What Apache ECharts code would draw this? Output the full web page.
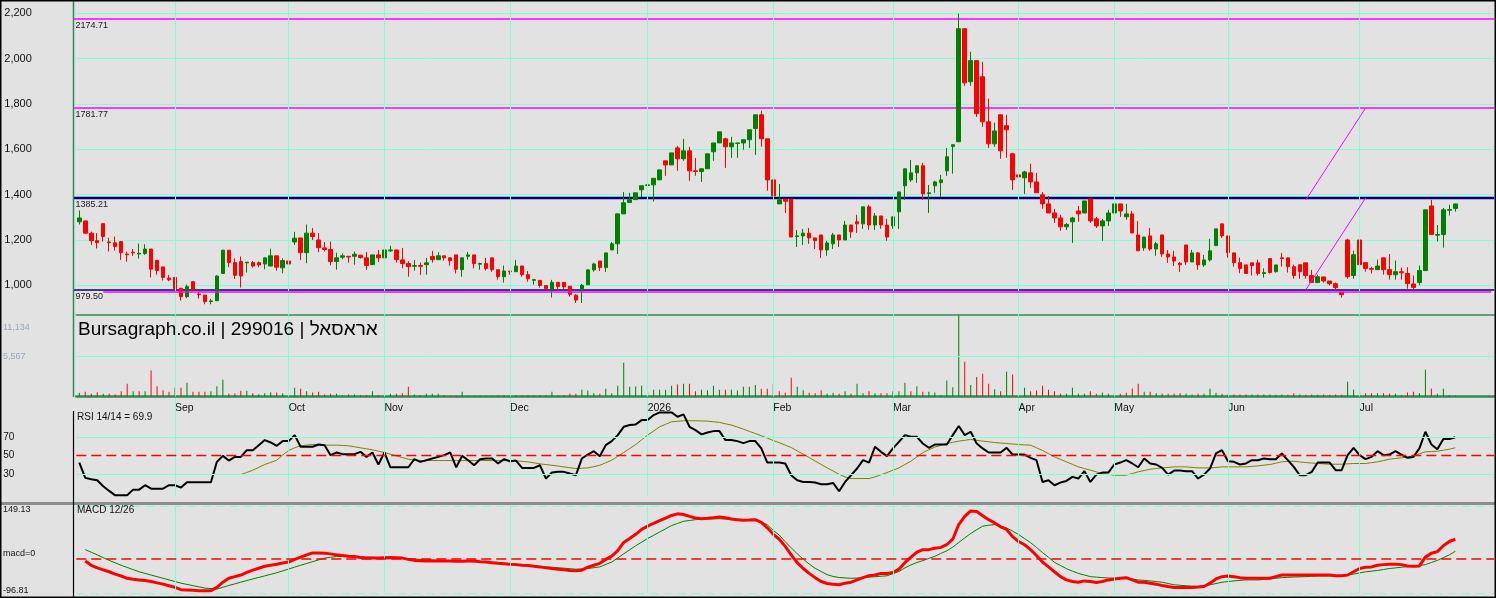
<!DOCTYPE html>
<html><head><meta charset="utf-8">
<script src="https://cdn.jsdelivr.net/npm/echarts@6/dist/echarts.min.js"></script>
<style>html,body{margin:0;padding:0;background:#e2e2e2}#c{width:1496px;height:598px}</style>
</head><body><div id="c"></div>
<script>
const opens=[1280,1284,1230,1197,1272,1191,1188,1193,1138,1146,1138,1140,1160,1110,1081,1032,1035,987,950,1016,962,957,928,932,1052,1155,1100,1105,1099,1100,1100,1094,1085,1130,1077,1107,1191,1209,1144,1230,1200,1165,1158,1105,1124,1128,1128,1133,1121,1091,1134,1121,1152,1156,1112,1096,1084,1087,1091,1127,1113,1130,1121,1134,1069,1128,1134,1093,1096,1121,1069,1038,1063,1060,1085,1047,1022,1022,999,984,1013,1013,996,956,984,1002,1068,1107,1078,1156,1183,1315,1365,1378,1421,1440,1443,1465,1549,1531,1606,1558,1593,1505,1502,1514,1589,1628,1646,1611,1626,1628,1642,1692,1752,1646,1465,1359,1380,1380,1215,1218,1230,1209,1222,1156,1183,1222,1200,1266,1280,1271,1346,1266,1306,1266,1262,1324,1439,1465,1496,1527,1405,1439,1453,1505,1612,1633,2132,1898,1991,1920,1721,1624,1752,1704,1580,1487,1474,1496,1456,1399,1359,1319,1297,1258,1280,1328,1319,1381,1293,1262,1284,1319,1359,1302,1315,1222,1165,1218,1160,1222,1138,1125,1097,1178,1103,1143,1090,1112,1175,1271,1218,1143,1100,1090,1099,1099,1052,1118,1060,1121,1121,1082,1091,1099,1043,1012,1037,1019,1007,969,1200,1043,1200,1100,1074,1069,1121,1069,1047,1060,1052,1006,1012,1065,1350,1221,1224,1331,1339];
const closes=[1297,1230,1197,1188,1215,1188,1171,1144,1135,1143,1141,1160,1071,1065,1035,1024,985,950,994,979,959,928,931,1041,1155,1100,1044,1041,1102,1085,1090,1121,1130,1080,1109,1094,1208,1144,1230,1215,1166,1158,1105,1121,1130,1125,1137,1122,1087,1134,1121,1156,1156,1113,1096,1082,1087,1084,1099,1113,1130,1121,1109,1071,1121,1134,1096,1096,1074,1069,1038,1063,1060,1085,1047,1029,1025,999,985,1013,994,993,960,935,1000,1068,1094,1078,1143,1183,1315,1364,1377,1408,1439,1443,1472,1509,1531,1584,1558,1593,1505,1502,1514,1580,1628,1677,1611,1628,1628,1642,1686,1752,1646,1465,1394,1377,1371,1213,1218,1230,1209,1197,1156,1187,1222,1200,1266,1236,1271,1346,1266,1306,1266,1213,1302,1412,1514,1496,1527,1403,1408,1456,1465,1567,1620,2132,1893,1991,1757,1721,1624,1681,1593,1686,1465,1478,1500,1456,1408,1359,1319,1297,1258,1268,1297,1315,1372,1284,1262,1284,1319,1359,1328,1315,1231,1152,1213,1160,1183,1138,1125,1107,1091,1103,1143,1090,1112,1152,1249,1218,1144,1100,1074,1052,1087,1052,1056,1056,1090,1118,1082,1043,1060,1043,1012,1038,1019,1007,990,959,1038,1135,1091,1074,1071,1085,1069,1047,1060,1055,1007,990,1065,1333,1224,1224,1333,1334,1359];
const highs=[1330,1286,1237,1230,1272,1210,1215,1193,1149,1160,1184,1181,1160,1110,1081,1046,1035,987,1004,1016,971,957,940,1044,1155,1155,1119,1127,1102,1107,1105,1122,1162,1130,1119,1178,1236,1209,1268,1253,1230,1191,1193,1144,1141,1128,1149,1133,1147,1134,1156,1196,1174,1156,1165,1106,1112,1100,1121,1152,1146,1130,1121,1134,1121,1147,1134,1100,1121,1121,1069,1087,1063,1112,1085,1063,1028,1022,999,1024,1013,1013,996,960,1006,1071,1099,1107,1143,1191,1318,1411,1408,1408,1439,1461,1472,1509,1549,1584,1615,1646,1611,1562,1514,1580,1628,1677,1651,1655,1628,1642,1686,1752,1770,1646,1465,1447,1380,1380,1244,1249,1253,1209,1222,1196,1231,1222,1284,1266,1311,1346,1355,1319,1306,1293,1302,1412,1514,1553,1531,1540,1443,1461,1487,1606,1620,2198,2132,2030,1991,1986,1823,1717,1752,1752,1584,1527,1505,1536,1496,1412,1394,1337,1311,1275,1302,1350,1372,1381,1302,1293,1333,1359,1359,1359,1328,1284,1213,1253,1191,1222,1156,1152,1103,1178,1156,1147,1134,1205,1249,1271,1218,1143,1122,1090,1099,1113,1075,1118,1090,1143,1121,1091,1091,1099,1068,1047,1037,1019,1012,969,1205,1153,1200,1100,1082,1113,1121,1138,1109,1078,1080,1043,1087,1333,1377,1266,1341,1355,1359];
const lows=[1268,1228,1178,1162,1193,1149,1153,1112,1104,1130,1118,1134,1035,1047,1021,1018,979,932,943,979,941,916,916,932,1052,1080,1028,990,1056,1078,1080,1071,1085,1065,1053,1080,1178,1112,1097,1200,1146,1149,1088,1069,1115,1100,1091,1118,1068,1091,1103,1121,1147,1100,1075,1038,1065,1046,1047,1100,1113,1109,1087,1052,1038,1113,1074,1069,1065,1060,1025,1012,1047,1060,1038,1016,1003,990,979,946,978,984,950,922,922,1002,1060,1063,1059,1156,1138,1315,1365,1378,1389,1374,1369,1465,1483,1531,1505,1549,1461,1483,1456,1514,1549,1628,1518,1562,1562,1598,1606,1575,1611,1417,1341,1359,1319,1213,1169,1178,1183,1160,1121,1130,1160,1169,1200,1209,1231,1249,1244,1244,1249,1196,1249,1249,1377,1456,1452,1377,1319,1408,1390,1483,1492,1633,1880,1880,1743,1699,1606,1611,1558,1562,1421,1470,1403,1430,1408,1337,1319,1275,1240,1244,1187,1280,1319,1275,1253,1196,1262,1319,1302,1289,1231,1152,1152,1152,1130,1125,1099,1085,1059,1090,1103,1068,1081,1105,1175,1209,1122,1082,1053,1052,1043,1043,1034,1052,1056,1082,1056,1029,1029,1029,1012,1012,1012,999,981,946,1029,1029,1060,1060,1052,1069,1047,1025,1025,1025,985,981,1000,1065,1224,1193,1166,1308,1325];
const volumes=[506,644,368,598,368,368,276,736,1748,736,736,736,3588,1426,874,644,1196,1196,1886,644,644,644,736,1426,2300,368,414,782,782,460,322,460,598,552,460,184,1196,1058,736,552,644,276,368,368,184,276,276,184,184,736,184,276,368,368,460,1334,276,184,368,368,368,184,90,110,644,90,100,90,110,100,184,184,184,184,184,184,184,184,184,644,184,184,368,368,920,828,460,368,1058,460,1472,4650,1334,1380,1472,644,920,920,920,1472,1656,1748,1748,736,920,874,1472,920,920,920,828,1334,1334,1564,1058,1058,1748,736,506,2576,1334,874,506,460,874,368,506,368,736,368,1748,460,736,460,460,460,736,736,1886,736,1426,644,644,552,184,2208,1288,11134,4784,1564,2668,3128,1748,1012,736,3404,3036,368,1196,736,828,1472,920,736,368,368,1196,368,368,736,368,552,368,368,368,506,1104,1748,644,644,460,368,368,368,460,368,276,368,368,1058,506,368,276,276,276,276,276,276,276,276,230,276,230,460,276,230,276,230,276,230,276,230,2024,920,736,460,460,460,460,368,368,184,552,644,460,3680,1104,368,1058,184,100];
const rsi=[42.3,25.6,24.1,23.0,16.5,11.4,6.6,6.6,6.6,12.8,12.8,17.6,13.9,13.9,13.9,17.6,17.6,15.0,20.9,20.9,20.9,20.9,20.9,43.1,49.6,44.5,48.5,48.5,55.8,55.8,61.3,66.8,64.2,60.6,65.7,65.7,72.2,59.5,59.5,59.5,62.0,61.3,50.4,53.3,51.5,51.5,51.5,54.0,48.5,53.3,40.2,53.3,37.2,37.2,37.2,37.2,46.0,43.1,44.9,46.7,48.5,50.4,53.3,37.2,49.6,44.9,39.4,46.0,46.7,46.7,41.3,46.0,43.8,44.5,36.5,36.5,36.5,39.4,24.9,31.4,32.2,32.2,30.3,28.5,46.7,51.1,54.7,49.3,61.3,65.7,72.2,81.3,83.2,83.9,88.6,88.6,94.1,97.0,97.0,97.0,92.3,94.8,81.3,77.7,73.0,75.1,76.6,76.6,66.8,66.8,65.7,63.5,65.7,65.7,57.7,42.3,42.3,42.3,41.3,28.5,23.0,21.2,21.2,20.5,18.7,18.7,20.1,11.0,21.2,28.5,35.8,44.9,42.3,59.5,54.0,49.3,57.7,64.9,72.2,70.4,70.4,63.1,58.4,62.0,62.0,62.0,72.2,82.1,72.2,75.9,63.1,57.7,53.3,53.3,53.3,58.4,51.1,51.1,51.1,47.5,44.9,21.2,23.0,17.6,20.5,22.3,26.7,24.9,32.9,21.2,29.2,31.4,31.4,40.2,42.3,44.9,41.3,37.2,46.7,41.3,40.2,36.5,29.2,33.6,33.6,32.9,32.9,24.9,29.2,35.8,52.2,55.8,43.8,43.1,40.2,41.3,44.9,44.9,46.7,46.0,46.0,52.2,44.9,37.6,28.5,28.5,32.2,42.3,42.3,42.3,34.0,34.0,50.4,58.4,50.4,46.0,48.5,54.7,50.4,51.1,54.7,51.1,47.5,48.5,57.7,75.9,62.0,56.9,67.9,67.9,69.9];
const rsiSignal=[null,null,null,null,null,null,null,null,null,null,null,null,null,null,null,null,null,null,null,null,null,null,null,null,null,null,null,29.2,31.5,34.0,37.0,40.2,42.5,44.9,50.5,55.5,58.4,60.6,61.3,62.0,61.8,61.3,61.3,61.3,61.0,60.6,59.5,58.4,57.3,56.2,54.8,53.3,51.4,49.6,47.8,46.0,45.2,44.5,44.5,44.5,44.5,44.5,44.5,44.5,44.5,44.5,44.5,44.5,44.5,44.5,44.5,44.5,44.4,44.2,43.6,43.1,42.0,40.9,40.1,39.4,38.5,37.6,36.7,35.8,36.1,36.5,37.9,39.4,42.1,44.9,49.1,53.3,57.6,62.0,67.1,72.2,76.7,81.3,84.0,86.8,87.3,87.9,87.9,87.9,87.7,87.5,86.8,86.1,84.6,83.2,81.0,78.8,76.3,74.0,71.5,68.9,66.3,64.0,61.3,58.7,55.0,51.4,47.8,44.0,40.3,36.5,33.1,29.5,26.7,24.9,24.9,24.9,24.9,26.7,29.0,31.4,34.0,36.5,40.1,43.8,48.5,53.3,56.2,59.1,61.1,63.1,64.4,65.7,66.6,67.5,66.6,65.7,65.0,64.2,63.6,63.1,62.5,62.0,61.6,61.3,58.4,55.5,52.0,48.5,45.8,43.1,40.4,37.6,35.8,34.0,32.2,30.3,29.4,28.5,28.5,28.5,30.4,32.2,33.6,35.1,35.8,36.5,37.0,37.6,37.6,37.6,37.0,36.5,36.5,36.5,37.0,37.6,37.6,37.6,37.6,37.6,38.2,38.7,39.5,40.2,41.6,43.1,43.5,43.8,43.0,42.3,41.8,41.3,40.9,40.5,40.5,40.5,40.9,41.3,41.3,41.3,42.2,43.1,44.5,46.0,46.8,47.5,48.5,49.6,51.8,54.0,54.3,54.7,55.8,56.9,58.4];
const macd=[null,-6.4,-18.4,-25.8,-31.3,-36.8,-43.3,-48.8,-55.2,-58.0,-59.8,-61.7,-64.4,-68.1,-71.8,-76.4,-81.0,-87.5,-88.4,-89.3,-90.2,-90.2,-90.2,-81.0,-66.3,-55.2,-50.6,-46.0,-38.7,-32.2,-26.7,-21.2,-18.4,-15.7,-12.0,-9.2,-1.8,4.6,11.0,16.6,16.6,15.6,13.8,11.0,9.2,7.4,6.4,3.7,1.8,1.8,1.8,2.8,3.7,2.8,1.8,-1.8,-4.6,-5.5,-6.4,-6.4,-6.4,-6.4,-6.4,-7.4,-7.4,-6.4,-6.4,-8.3,-9.2,-11.0,-12.9,-13.8,-15.7,-16.6,-18.4,-19.3,-21.2,-23.0,-25.8,-27.6,-29.5,-31.3,-33.1,-34.1,-32.2,-23.9,-18.4,-12.9,-1.8,7.4,23.0,46.0,57.1,69.0,82.9,92.1,100.3,107.7,115.1,122.4,127.0,125.2,119.7,115.1,113.2,114.2,116.0,117.8,116.0,112.3,110.5,108.6,109.5,110.5,103.1,87.5,69.0,55.2,35.0,11.0,-11.0,-27.6,-41.4,-53.4,-64.4,-70.0,-71.8,-73.6,-69.0,-66.3,-59.8,-53.4,-47.9,-46.0,-41.4,-41.4,-38.7,-29.5,-11.0,4.6,18.4,25.8,25.8,29.5,32.2,39.6,55.2,96.7,119.7,135.3,133.5,121.5,110.5,101.3,90.2,82.9,62.6,48.8,39.6,25.8,9.2,-9.2,-23.0,-36.8,-50.6,-59.8,-64.4,-66.3,-62.6,-64.4,-67.2,-64.4,-59.8,-57.1,-55.2,-53.4,-59.8,-66.3,-66.3,-69.0,-71.8,-75.5,-78.3,-81.0,-81.0,-81.0,-81.0,-80.1,-78.3,-69.0,-57.1,-50.6,-48.8,-50.6,-53.4,-55.2,-55.2,-55.2,-55.2,-55.2,-50.6,-46.0,-46.0,-46.0,-46.0,-46.0,-46.0,-46.0,-46.0,-46.0,-47.9,-47.9,-46.0,-36.8,-27.6,-23.9,-23.0,-18.4,-16.6,-15.7,-15.7,-16.6,-20.3,-21.2,-20.3,4.6,15.6,20.3,36.8,48.8,55.2];
const macdSignal=[null,25.8,18.4,11.0,3.2,-4.6,-11.5,-18.4,-24.5,-30.7,-36.8,-41.4,-46.0,-50.6,-55.2,-59.8,-64.4,-69.0,-72.5,-76.0,-79.4,-82.9,-84.3,-85.6,-80.6,-75.5,-71.0,-66.3,-61.7,-57.1,-52.8,-48.4,-44.0,-39.6,-34.3,-29.0,-23.7,-18.4,-13.4,-8.3,-3.2,1.8,4.1,6.4,6.2,6.0,5.8,5.5,4.8,4.1,3.5,2.8,2.1,1.4,0.7,0.0,-0.9,-1.8,-2.8,-3.7,-4.4,-5.0,-5.7,-6.4,-7.1,-7.8,-8.5,-9.2,-10.1,-11.0,-12.0,-12.9,-14.3,-15.6,-17.0,-18.4,-19.8,-21.2,-22.5,-23.9,-25.3,-26.7,-28.1,-29.5,-28.5,-27.6,-25.3,-23.0,-16.1,-9.2,2.3,13.8,25.3,36.8,47.0,57.1,66.3,75.5,84.7,93.9,99.9,105.9,108.2,110.5,111.4,112.3,112.8,113.2,111.9,110.5,109.6,108.6,110.0,109.0,104.0,96.0,80.0,67.0,48.0,31.0,14.0,-1.0,-15.0,-27.0,-36.0,-45.0,-50.0,-53.0,-54.3,-55.2,-54.5,-53.6,-52.0,-50.8,-49.5,-48.2,-42.0,-36.0,-26.0,-17.5,-10.6,-5.2,1.0,6.8,15.0,22.5,33.0,46.0,59.0,71.5,82.0,92.0,94.8,96.6,92.5,87.0,78.0,68.5,57.0,45.5,32.0,17.5,4.0,-10.0,-19.0,-28.0,-35.0,-41.5,-46.0,-50.6,-52.0,-53.4,-54.3,-55.2,-55.2,-55.2,-57.5,-59.8,-61.2,-62.6,-64.5,-66.3,-70.0,-73.6,-75.0,-76.4,-77.4,-78.3,-76.0,-73.6,-70.0,-66.3,-64.5,-62.6,-61.2,-59.8,-59.8,-59.8,-58.5,-57.1,-55.2,-53.4,-52.5,-51.6,-51.1,-50.6,-49.7,-48.8,-48.8,-48.8,-48.8,-48.8,-46.0,-43.3,-40.0,-36.8,-35.0,-33.1,-30.4,-27.6,-25.8,-23.9,-22.5,-21.2,-18.9,-16.6,-10.6,-4.6,3.2,11.0,21.2];

const monthTickIdx=[16,35,51,72,95,116,136,157,173,192,214];
const monthTickLabels=['Sep','Oct','Nov','Dec','2026','Feb','Mar','Apr','May','Jun','Jul'];
const priceTicks=[1000,1200,1400,1600,1800,2000,2200];
const rsiTicks=[30,50,70];
const volTickLabels=['11,134','5,567'];
const volGridValue=5567;
const macdTickLabels=['149.13','macd=0','-96.81'];
const macdBounds=[-96.81,149.13];
const levelValues=[2174.71,1781.77,1385.21,979.50];
const lowerMagentaLevel=972.0;
const trendIdx=[205,215];
const trendLower=[979.5,1385.21];
const trendUpper=[1376,1781.77];
const N_SLOTS=237;
const categories=Array.from({length:N_SLOTS},(_,i)=>'D'+(i+1));

const GREEN='#008000', RED='#ff0000', AQUA='#7fffd4', MAG='#ff00ff', NAVY='#000080', FRAME='#2e8b57';
const FONT='"Liberation Sans", Arial, sans-serif';
const GL=76.3, GW=1417.9;

const candleData=opens.map((o,i)=>[o,closes[i],lows[i],highs[i]]);
const volData=volumes.map((v,i)=>{
  const up = i===0 ? closes[0]>=opens[0] : closes[i]>=closes[i-1];
  return {value:v,itemStyle:{color:up?GREEN:RED}};
});
const vlines=monthTickIdx.map(i=>({xAxis:i}));

function xAx(gi,extra){return Object.assign({type:'category',gridIndex:gi,data:categories,boundaryGap:true,
  axisLine:{show:false},axisTick:{show:false},axisLabel:{show:false},splitLine:{show:false}},extra||{});}
function yAx(gi,min,max,extra){return Object.assign({type:'value',gridIndex:gi,min:min,max:max,
  axisLine:{show:false},axisTick:{show:false},axisLabel:{show:false},splitLine:{show:false}},extra||{});}
function marks(gi,data,z){return {type:'line',xAxisIndex:gi,yAxisIndex:gi,data:[],silent:true,z:z||1,symbol:'none',
  markLine:{silent:true,symbol:['none','none'],animation:false,label:{show:false},
    lineStyle:{color:AQUA,width:1,type:'solid'},data:data}};}

const levelStyles=[{color:MAG,width:1.3},{color:MAG,width:1.6},{color:NAVY,width:2.6},{color:NAVY,width:1.6}];
const priceMarks=[].concat(vlines,
  [
    [{coord:[4,lowerMagentaLevel],lineStyle:{color:MAG,width:1.7,type:'solid'}},{coord:[N_SLOTS-1,lowerMagentaLevel]}],
    [{coord:[trendIdx[0],trendLower[0]],lineStyle:{color:MAG,width:1,type:'solid'}},{coord:[trendIdx[1],trendLower[1]]}],
    [{coord:[trendIdx[0],trendUpper[0]],lineStyle:{color:MAG,width:1,type:'solid'}},{coord:[trendIdx[1],trendUpper[1]]}]
  ]);
const volMarks=[].concat(vlines,[{yAxis:volGridValue}]);
const rsiMarks=[].concat(vlines,[{yAxis:rsiTicks[0]},{yAxis:rsiTicks[2]},
  {yAxis:rsiTicks[1],lineStyle:{color:RED,width:1.3,type:[10,5]}}]);
const macdMarks=[].concat(vlines,[
  {yAxis:macdBounds[1],lineStyle:{color:AQUA,width:1.2,type:[8,6]}},
  {yAxis:macdBounds[0],lineStyle:{color:AQUA,width:1.2,type:[8,6]}},
  {yAxis:0,lineStyle:{color:RED,width:1.5,type:[10,5]}}]);

const txt=(id,x,y,t,size,color,va)=>({type:'text',id:id,x:x,y:y,z:50,silent:true,
  style:{text:t,fontSize:size,fontFamily:FONT,fill:color||'#111',align:'left',verticalAlign:va||'middle'}});

const chart=echarts.init(document.getElementById('c'),null,{renderer:'canvas'});
chart.setOption({
  animation:false,
  backgroundColor:'#e2e2e2',
  textStyle:{fontFamily:FONT},
  grid:[
    {left:GL,top:1,width:GW,height:314,outerBoundsMode:'none'},
    {left:GL,top:315.5,width:GW,height:81,outerBoundsMode:'none'},
    {left:GL,top:398,width:GW,height:98,outerBoundsMode:'none'},
    {left:GL,top:506,width:GW,height:87,outerBoundsMode:'none'}
  ],
  xAxis:[
    xAx(0,{axisLine:{show:true,onZero:false,lineStyle:{color:FRAME,width:1.5}}}),
    xAx(1,{axisLine:{show:true,onZero:false,lineStyle:{color:FRAME,width:2.5}},
      axisLabel:{show:true,interval:(i)=>monthTickIdx.indexOf(i)>=0,
        formatter:(v,i)=>{const k=monthTickIdx.indexOf(i);return k>=0?monthTickLabels[k]:'';},
        align:'left',margin:6,fontSize:10.5,color:'#111',fontFamily:FONT}}),
    xAx(2),
    xAx(3)
  ],
  yAxis:[
    yAx(0,869,2254,{
      axisTick:{show:false,customValues:priceTicks},
      splitLine:{show:true,lineStyle:{color:AQUA,width:1,type:'solid'}},
      axisLabel:{show:true,customValues:priceTicks,formatter:(v)=>Number(v).toLocaleString('en-US'),
      align:'left',margin:72,fontSize:11,color:'#111',fontFamily:FONT}}),
    yAx(1,0,11134),
    yAx(2,5.86,112.7,{axisLabel:{show:true,customValues:rsiTicks,formatter:(v)=>String(v),
      align:'left',margin:73,fontSize:10,color:'#111',fontFamily:FONT}}),
    yAx(3,macdBounds[0],macdBounds[1])
  ],
  series:[
    marks(0,priceMarks,1),
    {type:'candlestick',xAxisIndex:0,yAxisIndex:0,data:candleData,barWidth:4,z:3,silent:true,
      itemStyle:{color:GREEN,color0:RED,borderColor:GREEN,borderColor0:RED,borderWidth:1}},
    marks(1,volMarks,1),
    {type:'bar',xAxisIndex:1,yAxisIndex:1,data:volData,barWidth:1,z:3,silent:true},
    marks(2,rsiMarks,1),
    {type:'line',xAxisIndex:2,yAxisIndex:2,data:rsiSignal,symbol:'none',z:3,silent:true,
      lineStyle:{color:'#808000',width:1}},
    {type:'line',xAxisIndex:2,yAxisIndex:2,data:rsi,symbol:'none',z:4,silent:true,
      lineStyle:{color:'#000',width:2}},
    marks(3,macdMarks,1),
    {type:'line',xAxisIndex:3,yAxisIndex:3,data:macdSignal,symbol:'none',z:3,silent:true,
      lineStyle:{color:GREEN,width:1}},
    {type:'line',xAxisIndex:3,yAxisIndex:3,data:macd,symbol:'none',z:4,silent:true,
      lineStyle:{color:RED,width:3}}
  ],
  graphic:[
    {type:'rect',id:'sep',z:40,silent:true,shape:{x:0,y:502,width:1496,height:3},style:{fill:'#8c8c8c'}},
    {type:'line',id:'ax1',z:40,silent:true,shape:{x1:73.5,y1:1,x2:73.5,y2:397},style:{stroke:FRAME,lineWidth:1.5}},
    {type:'line',id:'ax2',z:40,silent:true,shape:{x1:73.5,y1:411,x2:73.5,y2:597},style:{stroke:'#000',lineWidth:1.2}},
    {type:'rect',id:'border',z:60,silent:true,shape:{x:0.75,y:0.75,width:1494.5,height:596.5},style:{fill:null,stroke:'#000',lineWidth:1.5}},
    txt('title',78,330,'Bursagraph.co.il | 299016 | אראסאל',19,'#000'),
    txt('rsiT',77,417,'RSI 14/14 = '+rsi[rsi.length-1].toFixed(1),10),
    txt('macdT',77,510.5,'MACD 12/26',10),
    txt('v1',3,327.5,volTickLabels[0],9,'#9aa6b8'),
    txt('v2',3,356.5,volTickLabels[1],9,'#9aa6b8'),
    txt('m1',3,510,macdTickLabels[0],9),
    txt('m2',3,553.5,macdTickLabels[1],9),
    txt('m3',3,591,macdTickLabels[2],9)
  ]
});
// horizontal level lines and their labels, positioned through the chart's own price scale
const p0=chart.convertToPixel({gridIndex:0},[0,levelValues[0]]);
const p1=chart.convertToPixel({gridIndex:0},[1,levelValues[0]]);
const slot=p1[0]-p0[0];
const rightEdge=chart.convertToPixel({gridIndex:0},[N_SLOTS-1,levelValues[0]])[0]+slot/2;
const levelGraphics=[];
levelValues.forEach((v,i)=>{
  const y=chart.convertToPixel({gridIndex:0},[0,v])[1];
  levelGraphics.push({type:'line',id:'lvlLine'+i,z:2,silent:true,
    shape:{x1:74,y1:y,x2:rightEdge,y2:y},style:{stroke:levelStyles[i].color,lineWidth:levelStyles[i].width}});
  levelGraphics.push(txt('lvl'+i,75.5,y+2,v.toFixed(2),9,'#1a1a1a','top'));
});
chart.setOption({graphic:levelGraphics});
</script></body></html>
